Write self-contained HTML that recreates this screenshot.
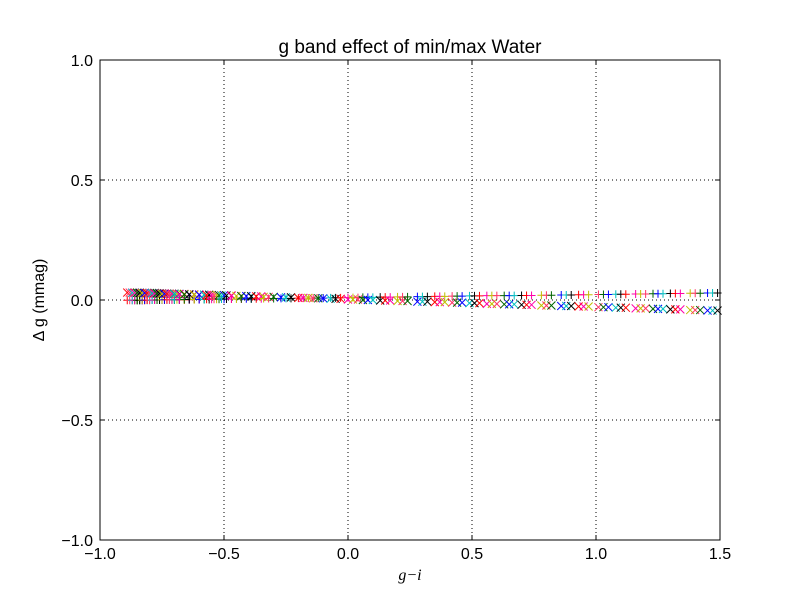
<!DOCTYPE html>
<html><head><meta charset="utf-8"><style>
body{margin:0;background:#fff}
text{font-family:"Liberation Sans",sans-serif}
</style></head><body>
<svg id="chart" width="800" height="600" xmlns="http://www.w3.org/2000/svg">
<rect width="800" height="600" fill="#fff"/>
<g id="grid"></g>
<g id="marks"></g>
<rect x="100" y="60" width="620" height="480" fill="none" stroke="#000" stroke-width="1"/>
<g id="ticks"></g>
<text x="410" y="53" font-size="19" text-anchor="middle">g band effect of min/max Water</text>
<text x="410" y="580" font-size="16" font-style="italic" text-anchor="middle" style="font-family:'Liberation Serif',serif">g−i</text>
<text transform="translate(44,300) rotate(-90)" font-size="16" text-anchor="middle">Δ g (mmag)</text>
</svg>
<script>
const xTicks=[-1.0,-0.5,0.0,0.5,1.0,1.5];
const xTickLabels=["\u22121.0","\u22120.5","0.0","0.5","1.0","1.5"];
const yTicks=[-1.0,-0.5,0.0,0.5,1.0];
const yTickLabels=["\u22121.0","\u22120.5","0.0","0.5","1.0"];
const gi=[-0.87,-0.86,-0.85,-0.84,-0.83,-0.82,-0.81,-0.80,-0.79,-0.78,-0.77,-0.76,-0.75,-0.74,-0.73,-0.72,-0.71,-0.70,-0.68,-0.66,-0.64,-0.62,-0.60,-0.58,-0.55,-0.52,-0.49,-0.45,-0.41,-0.37,-0.32,-0.25,-0.18,-0.12,-0.05,0.02,0.08,0.15,0.22,0.30,0.37,0.44,0.51,0.58,0.65,0.72,0.80,0.88,0.95,1.03,1.10,1.18,1.25,1.32,1.40,1.47];
const plusDelta=[-0.001,-0.001,-0.001,-0.001,-0.001,-0.001,0,0,0,0,0,0,0,0,0.001,0.001,0.001,0.001,0.001,0.001,0.002,0.002,0.002,0.002,0.003,0.003,0.004,0.004,0.005,0.005,0.006,0.007,0.008,0.008,0.009,0.010,0.011,0.012,0.013,0.014,0.015,0.016,0.017,0.018,0.018,0.019,0.020,0.021,0.022,0.023,0.024,0.025,0.026,0.027,0.028,0.029];
const crossDelta=[0.031,0.031,0.030,0.030,0.030,0.029,0.029,0.029,0.028,0.028,0.028,0.027,0.027,0.027,0.026,0.026,0.026,0.025,0.025,0.024,0.023,0.023,0.022,0.022,0.021,0.020,0.019,0.017,0.016,0.015,0.013,0.011,0.009,0.007,0.005,0.002,0.000,-0.002,-0.004,-0.007,-0.009,-0.011,-0.013,-0.016,-0.018,-0.020,-0.023,-0.025,-0.027,-0.030,-0.032,-0.035,-0.037,-0.039,-0.042,-0.044];
const palette=["#ff0000","#ff00aa","#bfbf00","#ff3366","#006400","#0000ff","#00bfbf","#000000"];
const NS="http://www.w3.org/2000/svg";
const X=v=>100+(v+1)/2.5*620, Y=v=>300-v*240;
function mk(t,a,p){const e=document.createElementNS(NS,t);for(const k in a)e.setAttribute(k,a[k]);p.appendChild(e);return e;}
const grid=document.getElementById('grid'),ticks=document.getElementById('ticks'),marks=document.getElementById('marks');
xTicks.forEach((v,i)=>{const x=X(v);
 if(i>0&&i<xTicks.length-1){const g=mk('line',{x1:x,x2:x,y1:60,y2:540,stroke:'#000','stroke-dasharray':'1,3'},grid);}
 mk('line',{x1:x,x2:x,y1:540,y2:535,stroke:'#000'},ticks);mk('line',{x1:x,x2:x,y1:60,y2:65,stroke:'#000'},ticks);
 const t=mk('text',{x:x,y:559,'font-size':16,'text-anchor':'middle'},ticks);t.textContent=xTickLabels[i];
 });
yTicks.forEach((v,i)=>{const y=Y(v);
 if(i>0&&i<yTicks.length-1){const g=mk('line',{x1:100,x2:720,y1:y,y2:y,stroke:'#000','stroke-dasharray':'1,3'},grid);}
 mk('line',{x1:100,x2:105,y1:y,y2:y,stroke:'#000'},ticks);mk('line',{x1:720,x2:715,y1:y,y2:y,stroke:'#000'},ticks);
 const t=mk('text',{x:93,y:y+6,'font-size':16,'text-anchor':'end'},ticks);t.textContent=yTickLabels[i];
 });
gi.forEach((v,i)=>{
 const x=X(v);
 for(let k=0;k<3;k++){
  const c=palette[(i*3+k)%palette.length];const dx=(k-1)*5;
  let y=Y(plusDelta[i]);
  const p=mk('path',{d:`M${x+dx-4},${y}h8M${x+dx},${y-4}v8`,stroke:c,'stroke-width':1,fill:'none'},marks);
  
  y=Y(crossDelta[i]);
  const q=mk('path',{d:`M${x+dx-4},${y-4}l8,8M${x+dx-4},${y+4}l8,-8`,stroke:c,'stroke-width':1,fill:'none'},marks);
  
 }});
</script>
</body></html>
